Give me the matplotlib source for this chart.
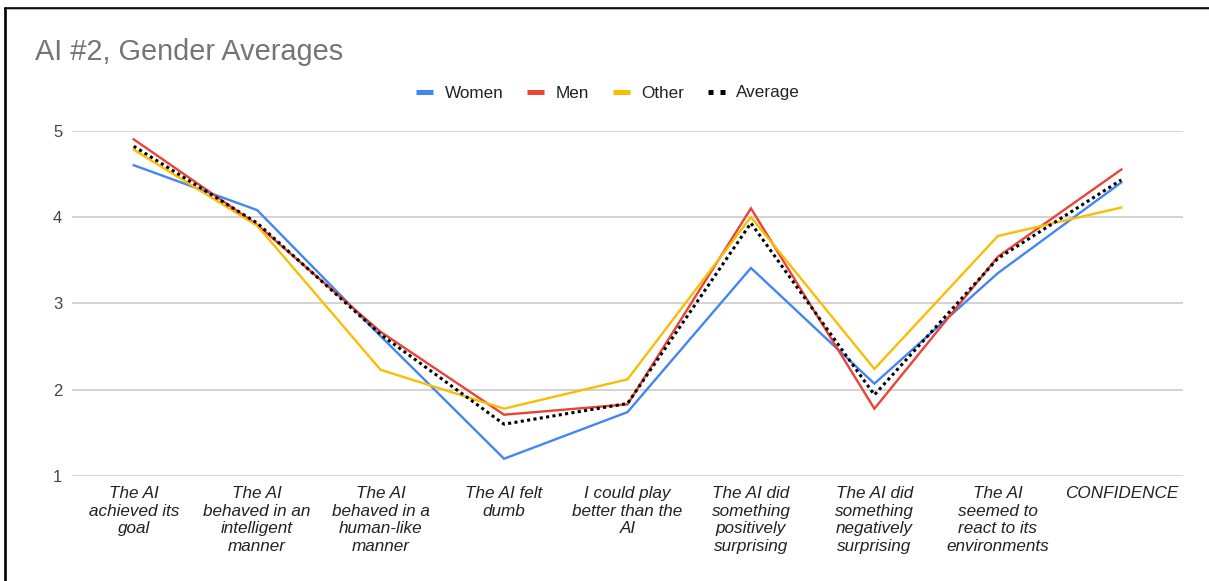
import matplotlib
matplotlib.use("Agg")
import matplotlib.pyplot as plt
from matplotlib.lines import Line2D

plt.rcParams['font.family'] = ['Liberation Sans', 'DejaVu Sans']

categories = [
    "The AI\nachieved its\ngoal",
    "The AI\nbehaved in an\nintelligent\nmanner",
    "The AI\nbehaved in a\nhuman-like\nmanner",
    "The AI felt\ndumb",
    "I could play\nbetter than the\nAI",
    "The AI did\nsomething\npositively\nsurprising",
    "The AI did\nsomething\nnegatively\nsurprising",
    "The AI\nseemed to\nreact to its\nenvironments",
    "CONFIDENCE",
]
women = [4.60, 4.08, 2.62, 1.20, 1.74, 3.41, 2.07, 3.35, 4.40]
men = [4.90, 3.91, 2.67, 1.71, 1.83, 4.10, 1.78, 3.54, 4.55]
other = [4.78, 3.90, 2.23, 1.78, 2.12, 4.00, 2.24, 3.78, 4.11]
average = [4.82, 3.93, 2.64, 1.60, 1.84, 3.93, 1.94, 3.52, 4.43]
y_ticks = [1, 2, 3, 4, 5]

series_names = ["Women", "Men", "Other", "Average"]
colors = ["#4285F4", "#EA4335", "#FBBC04", "#000000"]

W, H = 1209, 581
fig = plt.figure(figsize=(W / 100, H / 100), dpi=100)
fig.patch.set_facecolor("white")

left, right = 72 / W, 1183 / W
bottom, top = 1 - 476 / H, 1 - 130.7 / H
ax = fig.add_axes([left, bottom, right - left, top - bottom])

x = list(range(len(categories)))
ax.plot(x, women, color=colors[0], lw=1.7, solid_joinstyle="miter", zorder=3)
ax.plot(x, men, color=colors[1], lw=1.7, solid_joinstyle="miter", zorder=3)
ax.plot(x, other, color=colors[2], lw=1.7, solid_joinstyle="miter", zorder=3)
ax.plot(x, average, color=colors[3], lw=2.2, linestyle=(0, (1, 1.1)),
        dash_capstyle="butt", zorder=4)

ax.set_xlim(-0.5, len(categories) - 0.5)
ax.set_ylim(1, 5)
ax.set_yticks(y_ticks)
ax.set_yticklabels([str(v) for v in y_ticks])
ax.set_xticks(x)
ax.set_xticklabels(categories, fontstyle="italic", fontsize=12.3,
                   color="#222222", linespacing=1.24)
ax.tick_params(axis="x", length=0, pad=7)
ax.tick_params(axis="y", length=0, pad=7, labelsize=12, labelcolor="#444444")
ax.grid(axis="y", color="#cccccc", lw=1.2)
ax.set_axisbelow(True)
for s in ax.spines.values():
    s.set_visible(False)

# title
fig.text(35 / W, 1 - 60.5 / H, "AI #2, Gender Averages", fontsize=20.8,
         color="#757575", va="baseline", ha="left")

# legend
handles = [
    Line2D([], [], color=colors[0], lw=3.6, solid_capstyle="butt"),
    Line2D([], [], color=colors[1], lw=3.6, solid_capstyle="butt"),
    Line2D([], [], color=colors[2], lw=3.6, solid_capstyle="butt"),
    Line2D([], [], color=colors[3], lw=3.6, linestyle=(0, (1, 1.4)),
           dash_capstyle="butt"),
]
fig.legend(handles, series_names, loc="center", bbox_to_anchor=(608 / W, 1 - 93 / H),
           ncol=4, frameon=False, fontsize=12.3, handlelength=1.0,
           handletextpad=0.65, columnspacing=1.4, labelcolor="#222222",
           borderpad=0, borderaxespad=0)

# frame lines along the top and left edges
fig.add_artist(Line2D([4.5 / W, 4.5 / W], [0, 1 - 7 / H], transform=fig.transFigure,
                      color="black", lw=1.9, solid_capstyle="butt"))
fig.add_artist(Line2D([3.5 / W, 1], [1 - 7.5 / H, 1 - 7.5 / H], transform=fig.transFigure,
                      color="black", lw=1.9, solid_capstyle="butt"))
fig.add_artist(Line2D([5.5 / W, 1], [1 - 9.3 / H, 1 - 9.3 / H], transform=fig.transFigure,
                      color="#bbbbbb", lw=0.8, solid_capstyle="butt"))

fig.savefig("out.png", dpi=100, facecolor="white")
